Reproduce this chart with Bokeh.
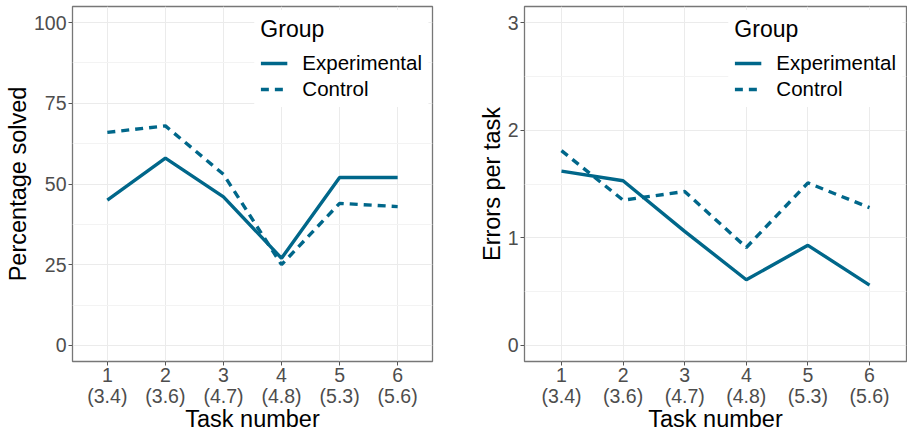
from bokeh.plotting import figure
from bokeh.layouts import row
from bokeh.models import FixedTicker, Range1d, Legend, LegendItem, LinearAxis
from bokeh.embed import file_html
from bokeh.resources import INLINE

tasks = [1, 2, 3, 4, 5, 6]
difficulty = ["3.4", "3.6", "4.7", "4.8", "5.3", "5.6"]
pct_experimental = [45, 58, 46, 27, 52, 52]
pct_control = [66, 68, 53, 25, 44, 43]
err_experimental = [1.62, 1.53, 1.06, 0.61, 0.93, 0.56]
err_control = [1.81, 1.35, 1.43, 0.91, 1.51, 1.28]

COLOR = "#00678A"
FONT = "Liberation Sans"
task_labels = {t: str(t) for t in tasks}
diff_labels = {t: f"({d})" for t, d in zip(tasks, difficulty)}


def style_axis(ax):
    ax.axis_line_color = None
    ax.major_tick_line_color = "#555555"
    ax.major_tick_out = 4
    ax.major_tick_in = 0
    ax.minor_tick_line_color = None
    ax.major_label_text_font = FONT
    ax.major_label_text_font_size = "19.5px"
    ax.major_label_text_color = "#4D4D4D"
    ax.axis_label_text_font = FONT
    ax.axis_label_text_font_size = "23.5px"
    ax.axis_label_text_font_style = "normal"
    ax.axis_label_text_color = "#000000"


def make_panel(ylab, exp, ctl, yticks, yminor, yr, width, bl, br):
    p = figure(width=width, height=434, output_backend="svg", toolbar_location=None,
               x_range=Range1d(0.4, 6.6), y_range=Range1d(*yr),
               min_border_left=bl, min_border_right=br, min_border_top=6, min_border_bottom=0)
    p.outline_line_color = "#777777"
    p.outline_line_width = 1.3
    style_axis(p.xaxis[0])
    style_axis(p.yaxis[0])
    p.xaxis.ticker = FixedTicker(ticks=tasks)
    p.xaxis.major_label_overrides = task_labels
    p.xaxis.major_label_standoff = 2

    ax2 = LinearAxis(ticker=FixedTicker(ticks=tasks), major_label_overrides=diff_labels)
    style_axis(ax2)
    ax2.major_tick_line_color = None
    ax2.major_tick_out = 0
    ax2.major_label_standoff = 0
    ax2.axis_label = "Task number"
    ax2.axis_label_standoff = -4
    p.add_layout(ax2, "below")

    p.yaxis.ticker = FixedTicker(ticks=yticks, minor_ticks=yminor)
    p.yaxis.axis_label = ylab
    p.yaxis.axis_label_standoff = 0
    p.yaxis.major_label_standoff = 2
    p.xgrid.grid_line_color = "#EBEBEB"
    p.ygrid.grid_line_color = "#EBEBEB"
    p.ygrid.minor_grid_line_color = "#F3F3F3"
    p.xgrid.grid_line_width = 1
    p.ygrid.grid_line_width = 1

    r1 = p.line(tasks, exp, line_color=COLOR, line_width=3.4)
    r2 = p.line(tasks, ctl, line_color=COLOR, line_width=3.4, line_dash="8 6")
    leg = Legend(items=[LegendItem(label="Experimental", renderers=[r1]),
                        LegendItem(label="Control", renderers=[r2])],
                 location="top_right", title="Group")
    leg.title_text_font = FONT
    leg.title_text_font_size = "23px"
    leg.title_text_font_style = "normal"
    leg.title_text_color = "#000000"
    leg.title_standoff = 8
    leg.label_text_font = FONT
    leg.label_text_font_size = "20.5px"
    leg.label_text_color = "#000000"
    leg.label_standoff = 15
    leg.label_height = 24
    leg.glyph_width = 27
    leg.glyph_height = 24
    leg.spacing = 2
    leg.padding = 0
    leg.margin = 4
    leg.border_line_color = "white"
    leg.border_line_width = 6
    leg.background_fill_alpha = 1.0
    p.add_layout(leg, "center")
    return p


p1 = make_panel("Percentage solved", pct_experimental, pct_control,
                [0, 25, 50, 75, 100], [12.5, 37.5, 62.5, 87.5], (-5, 105), 450, 72, 18)
p2 = make_panel("Errors per task", err_experimental, err_control,
                [0, 1, 2, 3], [0.5, 1.5, 2.5], (-0.15, 3.15), 457, 74, 1)

layout = row(p1, p2)
open("out.html", "w").write(file_html(layout, INLINE))
